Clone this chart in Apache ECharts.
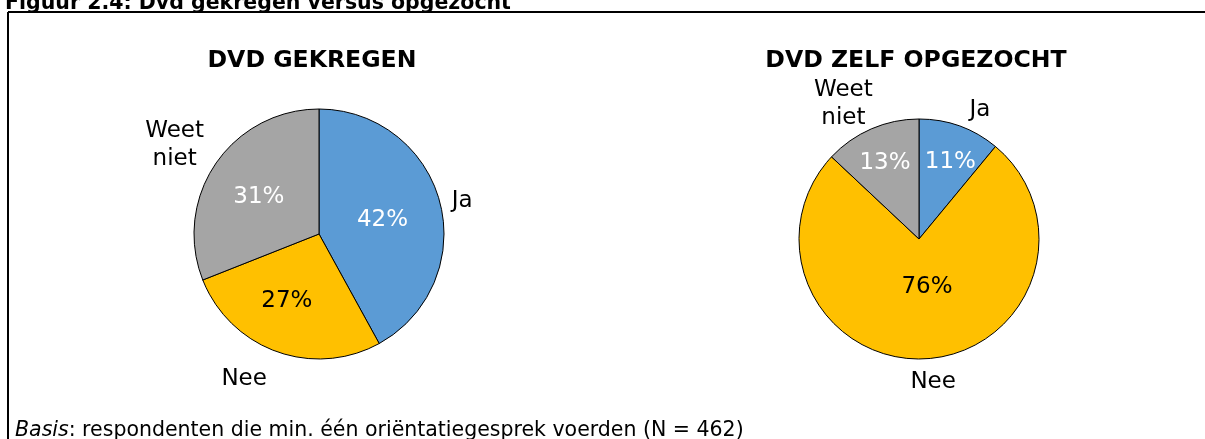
<!DOCTYPE html>
<html>
<head>
<meta charset="utf-8">
<script src="https://cdn.jsdelivr.net/npm/echarts@6/dist/echarts.min.js"></script>
<style>
  html, body { margin: 0; padding: 0; background: #fff; }
  #chart { width: 1205px; height: 439px; }
</style>
</head>
<body>
<div id="chart"></div>
<script>
const categories = ['Ja', 'Nee', 'Weet niet']
const labelNames = ['{c|Ja}', '{c|Nee}', '{c|Weet}\n{c|niet}']
const gekregen = [42, 27, 31]
const opgezocht = [11, 76, 13]

const colors = ['#5B9BD5', '#FFC000', '#A5A5A5']
const innerColors = ['#fff', '#000', '#fff']
const font = 'DejaVu Sans'

// small nudges so labels sit where Excel put them
const leftInner = [[0, 2], [-10, 5], [-6, 0]]
const leftOuter = [[-7, 2], [0, 14], [5, -11]]
const rightInner = [[10, -18], [4, -15], [-9, -18]]
const rightOuter = [[0, -3], [-22, 9], [12, -12]]

function pieSeries(values, center, radius, inner, outer) {
  return [
    {
      type: 'pie',
      center: center,
      radius: radius,
      startAngle: 90,
      clockwise: true,
      silent: true,
      animation: false,
      avoidLabelOverlap: false,
      itemStyle: { borderColor: '#000', borderWidth: 1 },
      label: {
        position: 'inside',
        formatter: '{c}%',
        fontFamily: font,
        fontSize: 23
      },
      labelLine: { show: false },
      data: values.map((v, i) => ({
        name: categories[i],
        value: v,
        itemStyle: { color: colors[i] },
        label: { color: innerColors[i], offset: inner[i] }
      }))
    },
    {
      // overlay only for the outside category labels
      type: 'pie',
      center: center,
      radius: radius,
      startAngle: 90,
      clockwise: true,
      silent: true,
      animation: false,
      avoidLabelOverlap: false,
      itemStyle: { color: 'transparent', borderWidth: 0 },
      label: {
        position: 'outside',
        formatter: p => labelNames[p.dataIndex],
        fontFamily: font,
        fontSize: 23,
        color: '#000',
        rich: { c: { fontFamily: font, fontSize: 23, lineHeight: 28, align: 'center', color: '#000' } }
      },
      labelLine: { show: false, length: 14, length2: 0 },
      data: values.map((v, i) => ({
        name: categories[i],
        value: v,
        label: { offset: outer[i] }
      }))
    }
  ]
}

const chart = echarts.init(document.getElementById('chart'))
chart.setOption({
  backgroundColor: '#fff',
  title: [
    {
      text: 'Figuur 2.4: Dvd gekregen versus opgezocht',
      left: 0, top: -12,
      textStyle: { fontFamily: font, fontSize: 20.5, fontWeight: 'bold', color: '#000' }
    },
    {
      text: 'DVD GEKREGEN',
      left: 307, top: 44, textAlign: 'center',
      textStyle: { fontFamily: font, fontSize: 23.6, fontWeight: 'bold', color: '#000' }
    },
    {
      text: 'DVD ZELF OPGEZOCHT',
      left: 911, top: 44, textAlign: 'center',
      textStyle: { fontFamily: font, fontSize: 23.6, fontWeight: 'bold', color: '#000' }
    },
    {
      text: '{i|Basis}: respondenten die min. één oriëntatiegesprek voerden (N = 462)',
      left: 10, top: 415,
      textStyle: {
        fontFamily: font, fontSize: 20.5, fontWeight: 'normal', color: '#000',
        rich: { i: { fontFamily: font, fontSize: 20.5, fontStyle: 'italic' } }
      }
    }
  ],
  graphic: [
    { type: 'line', shape: { x1: 8, y1: 12, x2: 1205, y2: 12 }, style: { stroke: '#000', lineWidth: 2 } },
    { type: 'line', shape: { x1: 8, y1: 12, x2: 8, y2: 439 }, style: { stroke: '#000', lineWidth: 2 } }
  ],
  series: [
    ...pieSeries(gekregen, [319, 234], 125, leftInner, leftOuter),
    ...pieSeries(opgezocht, [919, 239], 120, rightInner, rightOuter)
  ]
})
</script>
</body>
</html>
